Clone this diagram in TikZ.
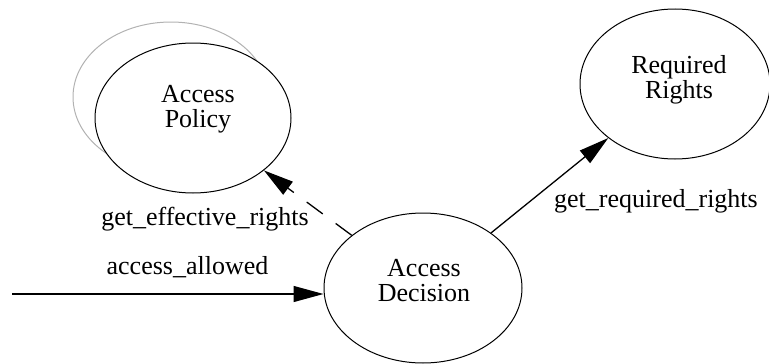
\documentclass[tikz,border=0pt]{standalone}
\usepackage{fontspec}
\setmainfont{Liberation Serif}
\usetikzlibrary{shapes.geometric,arrows.meta}
\begin{document}
\begin{tikzpicture}[x=1pt,y=-1pt,
  every node/.style={font=\fontsize{26}{25}\selectfont},
  bubble/.style={draw=black,line width=1pt,ellipse,fill=white,inner sep=0pt},
  ghost/.style={draw=black!30,line width=1pt,ellipse,inner sep=0pt},
  txt/.style={align=center,inner sep=0pt},
  lbl/.style={inner sep=0pt,anchor=base},
  conn/.style={line width=1.3pt,-{Triangle[length=30pt,width=16pt]}}]
\useasboundingbox (0,0) rectangle (769,364);
% ghost behind Access Policy
\node[ghost,minimum width=196pt,minimum height=150pt] (ghost) at (171,97) {};
\node[bubble,minimum width=196pt,minimum height=150pt] (pol) at (193,118) {};
\node[bubble,minimum width=198pt,minimum height=150pt] (dec) at (423,288) {};
\node[bubble,minimum width=190pt,minimum height=150pt] (req) at (675,84) {};
\node[txt] (poltxt) at (198,109.5) {Access\\Policy};
\node[txt] (dectxt) at (424,281) {Access\\Decision};
\node[txt] (reqtxt) at (679,79.5) {Required\\Rights};
\coordinate (src) at (12,294);
\coordinate (decin) at (dec.west |- src);
\draw[conn] (src) -- (decin);
\draw[conn,dash pattern=on 20pt off 16pt] (dec) -- (pol);
\draw[conn] (dec) -- (req);
\node[lbl] (l1) at (205,225) {get\_effective\_rights};
\node[lbl] (l2) at (187.5,274) {access\_allowed};
\node[lbl] (l3) at (656,207) {get\_required\_rights};
\end{tikzpicture}
\end{document}
